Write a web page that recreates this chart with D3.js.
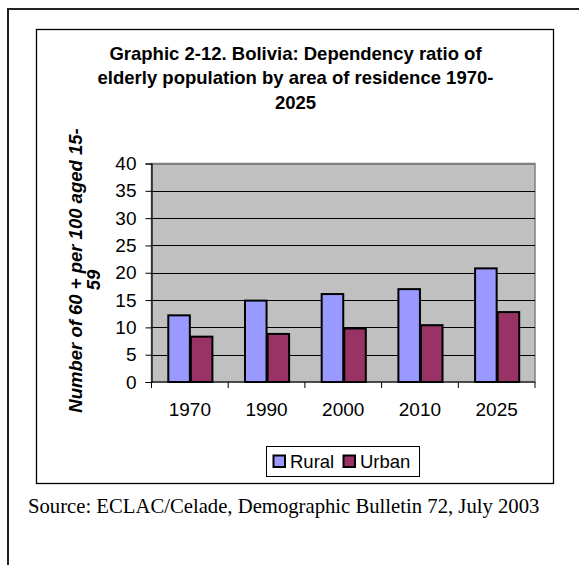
<!DOCTYPE html>
<html>
<head>
<meta charset="utf-8">
<script src="https://cdn.jsdelivr.net/npm/d3@7"></script>
<style>
  html, body { margin: 0; padding: 0; background: #fff; }
  svg { display: block; }
</style>
</head>
<body>
<svg id="chart" width="579" height="565"></svg>
<script>
// Data: dependency ratio of the elderly (60+ per 100 aged 15-59) by area of residence
const years = ["1970", "1990", "2000", "2010", "2025"];
const seriesNames = ["Rural", "Urban"];
const rural = [12.2, 14.9, 16.1, 17.0, 20.8];
const urban = [8.3, 8.8, 9.8, 10.4, 12.8];
const yTicks = [0, 5, 10, 15, 20, 25, 30, 35, 40];
const titleLines = ["Graphic 2-12. Bolivia: Dependency ratio of", "elderly population by area of residence 1970-", "2025"];
const yTitleLines = ["Number of 60 + per 100 aged 15-", "59"];
const sourceText = "Source: ECLAC/Celade, Demographic Bulletin 72, July 2003";

const colors = { Rural: "#9999FF", Urban: "#993366" };
const values = { Rural: rural, Urban: urban };

const sans = "'Liberation Sans', Arial, sans-serif";
const serif = "'Liberation Serif', 'Times New Roman', serif";

const svg = d3.select("#chart");

// Outer page frame (only top and left edges fall inside the view)
svg.append("path")
  .attr("d", "M8,600 L8,9 L600,9")
  .attr("fill", "none").attr("stroke", "#222").attr("stroke-width", 2);

// Chart area frame
svg.append("rect")
  .attr("x", 36.5).attr("y", 29.5).attr("width", 517).attr("height", 454)
  .attr("fill", "#fff").attr("stroke", "#000").attr("stroke-width", 1.3);

// Title
svg.append("text")
  .attr("text-anchor", "middle")
  .attr("font-family", sans).attr("font-weight", "bold").attr("font-size", 18.5)
  .selectAll("tspan").data(titleLines).join("tspan")
  .attr("x", 295.5).attr("y", (d, i) => 60 + i * 24.3)
  .text(d => d);

// Plot geometry
const plot = { left: 151.5, right: 535, top: 163.5, bottom: 382 };

const x = d3.scaleBand().domain(years).range([plot.left, plot.right]).padding(0);
const xs = d3.scaleBand().domain(seriesNames).range([0, x.bandwidth()]).paddingInner(0).paddingOuter(0.7);
const y = d3.scaleLinear().domain([0, 40]).range([plot.bottom, plot.top]);

// Plot background
svg.append("rect")
  .attr("x", plot.left).attr("y", plot.top)
  .attr("width", plot.right - plot.left).attr("height", plot.bottom - plot.top)
  .attr("fill", "#C0C0C0").attr("stroke", "#808080").attr("stroke-width", 1.5);

// Gridlines
svg.append("g").selectAll("line").data(yTicks.filter(t => t > 0)).join("line")
  .attr("x1", plot.left).attr("x2", plot.right)
  .attr("y1", d => Math.round(y(d)) + 0.5).attr("y2", d => Math.round(y(d)) + 0.5)
  .attr("stroke", d => d === 40 ? "#808080" : "#000").attr("stroke-width", 1.1);

// Bars
const groups = svg.append("g").selectAll("g").data(years).join("g")
  .attr("transform", d => `translate(${x(d)},0)`);
groups.selectAll("rect")
  .data((d, i) => seriesNames.map(s => ({ s, v: values[s][i] })))
  .join("rect")
  .attr("x", d => xs(d.s) + 1)
  .attr("width", xs.bandwidth() - 1)
  .attr("y", d => y(d.v))
  .attr("height", d => y(0) - y(d.v))
  .attr("fill", d => colors[d.s])
  .attr("stroke", "#000").attr("stroke-width", 2);

// Y axis
const yAxis = svg.append("g")
  .attr("transform", `translate(${plot.left},0)`)
  .call(d3.axisLeft(y).tickValues(yTicks).tickSize(6).tickPadding(9).tickFormat(d3.format("d")));
yAxis.select(".domain").attr("stroke", "#000").attr("stroke-width", 1.2);
yAxis.selectAll(".tick line").attr("stroke", "#000");
yAxis.selectAll(".tick text")
  .attr("font-family", sans).attr("font-size", 19).attr("fill", "#000");

// X axis: tick marks at category boundaries
const xAxis = svg.append("g").attr("transform", `translate(0,${plot.bottom})`);
xAxis.append("line")
  .attr("x1", plot.left).attr("x2", plot.right).attr("y1", 0).attr("y2", 0)
  .attr("stroke", "#000").attr("stroke-width", 1.2);
const boundaries = years.map(d => x(d)).concat([plot.right]);
xAxis.selectAll("line.tk").data(boundaries).join("line").attr("class", "tk")
  .attr("x1", d => d).attr("x2", d => d).attr("y1", 0).attr("y2", 6)
  .attr("stroke", "#000");
xAxis.selectAll("text").data(years).join("text")
  .attr("x", d => x(d) + x.bandwidth() / 2).attr("y", 34)
  .attr("text-anchor", "middle")
  .attr("font-family", sans).attr("font-size", 19).attr("fill", "#000")
  .text(d => d);

// Y axis title (two lines, rotated)
const yTitle = svg.append("g");
const yTitlePos = [{ x: 81.5, y: 270.5 }, { x: 100, y: 280 }];
yTitle.selectAll("text").data(yTitleLines).join("text")
  .attr("transform", (d, i) => `translate(${yTitlePos[i].x},${yTitlePos[i].y}) rotate(-90)`)
  .attr("text-anchor", "middle")
  .attr("font-family", sans).attr("font-weight", "bold").attr("font-style", "italic")
  .attr("font-size", 18.5).attr("fill", "#000")
  .text(d => d);

// Legend
const legend = svg.append("g");
legend.append("rect")
  .attr("x", 266.5).attr("y", 446.5).attr("width", 153).attr("height", 30)
  .attr("fill", "#fff").attr("stroke", "#000").attr("stroke-width", 1);
const legendX = { Rural: 273, Urban: 343 };
const items = legend.selectAll("g.item").data(seriesNames).join("g").attr("class", "item")
  .attr("transform", d => `translate(${legendX[d]},455)`);
items.append("rect")
  .attr("x", 0.5).attr("y", 0.5).attr("width", 11.5).attr("height", 11.5)
  .attr("fill", d => colors[d]).attr("stroke", "#000").attr("stroke-width", 2);
items.append("text")
  .attr("x", 17).attr("y", 13)
  .attr("font-family", sans).attr("font-size", 18.5).attr("fill", "#000")
  .text(d => d);

// Source note
svg.append("text")
  .attr("x", 28).attr("y", 513)
  .attr("font-family", serif).attr("font-size", 20.7).attr("fill", "#000")
  .text(sourceText);
</script>
</body>
</html>
